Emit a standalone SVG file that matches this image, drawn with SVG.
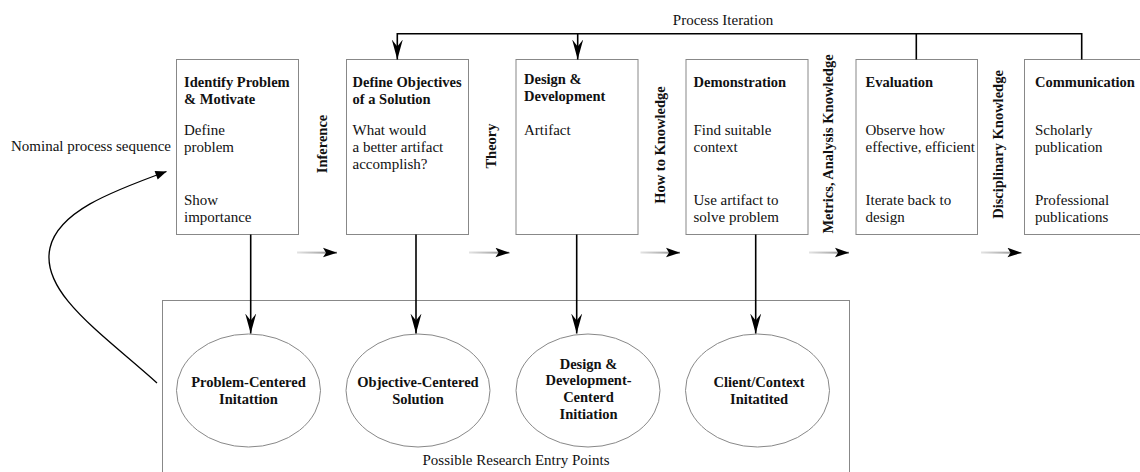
<svg xmlns="http://www.w3.org/2000/svg" width="1140" height="472" viewBox="0 0 1140 472">
<defs>
<style>
text{font-family:"Liberation Serif","DejaVu Serif",serif;fill:#111;}
.r{font-size:15px;}
.b{font-size:14.5px;font-weight:bold;}
.box{fill:#fff;stroke:#888;stroke-width:1;}
.ell{fill:#fff;stroke:#888;stroke-width:1;}
.ln{fill:none;stroke:#000;stroke-width:1.6;}
.sm{fill:none;stroke:url(#g);stroke-width:2;}
</style>
<linearGradient id="g" x1="0" y1="0" x2="1" y2="0">
<stop offset="0" stop-color="#e4e4e4"/>
<stop offset="1" stop-color="#888"/>
</linearGradient>
<marker id="ah" markerUnits="userSpaceOnUse" markerWidth="22" markerHeight="14" viewBox="-20 -7 22 14" refX="0" refY="0" orient="auto">
<path d="M0,0 L-20,-5.5 L-13,0 L-20,5.5 z" fill="#000"/>
</marker>
<marker id="tri" markerUnits="userSpaceOnUse" markerWidth="14" markerHeight="12" viewBox="-12 -6 14 12" refX="0" refY="0" orient="auto">
<path d="M0,0 L-11,-4.5 L-11,4.5 z" fill="#000"/>
</marker>
<marker id="sh" markerUnits="userSpaceOnUse" markerWidth="16" markerHeight="12" viewBox="-14 -6 16 12" refX="0" refY="0" orient="auto">
<path d="M0,0 L-14,-5 L-11,0 L-14,4.5 z" fill="#000"/>
</marker>
</defs>
<rect width="1140" height="472" fill="#fff"/>

<g id="entry-points">
<rect x="162.5" y="300.5" width="687" height="200" fill="#fff" stroke="#888" stroke-width="1"/>
<text class="r" x="516" y="465" text-anchor="middle">Possible Research Entry Points</text>
</g>

<g id="box-identify">
<rect class="box" x="176.5" y="59.5" width="122" height="175"/>
<text class="b" x="184" y="87">Identify Problem</text>
<text class="b" x="184" y="104">&amp; Motivate</text>
<text class="r" x="184" y="135">Define</text>
<text class="r" x="184" y="152">problem</text>
<text class="r" x="184" y="205">Show</text>
<text class="r" x="184" y="222">importance</text>
</g>
<g id="box-objectives">
<rect class="box" x="346.5" y="59.5" width="122" height="175"/>
<text class="b" x="352.5" y="87">Define Objectives</text>
<text class="b" x="352.5" y="104">of a Solution</text>
<text class="r" x="352.5" y="135">What would</text>
<text class="r" x="352.5" y="152">a better artifact</text>
<text class="r" x="352.5" y="169">accomplish?</text>
</g>
<g id="box-design">
<rect class="box" x="516" y="59.5" width="122" height="175"/>
<text class="b" x="524" y="84">Design &amp;</text>
<text class="b" x="524" y="101">Development</text>
<text class="r" x="524" y="135">Artifact</text>
</g>
<g id="box-demonstration">
<rect class="box" x="686" y="59.5" width="122" height="175"/>
<text class="b" x="693.5" y="87">Demonstration</text>
<text class="r" x="693.5" y="135">Find suitable</text>
<text class="r" x="693.5" y="152">context</text>
<text class="r" x="693.5" y="205">Use artifact to</text>
<text class="r" x="693.5" y="222">solve problem</text>
</g>
<g id="box-evaluation">
<rect class="box" x="856" y="59.5" width="121.5" height="175"/>
<text class="b" x="865.5" y="87">Evaluation</text>
<text class="r" x="865.5" y="135">Observe how</text>
<text class="r" x="865.5" y="152">effective, efficient</text>
<text class="r" x="865.5" y="205">Iterate back to</text>
<text class="r" x="865.5" y="222">design</text>
</g>
<g id="box-communication">
<rect class="box" x="1024.5" y="59.5" width="130" height="175"/>
<text class="b" x="1035" y="87">Communication</text>
<text class="r" x="1035" y="135">Scholarly</text>
<text class="r" x="1035" y="152">publication</text>
<text class="r" x="1035" y="205">Professional</text>
<text class="r" x="1035" y="222">publications</text>
</g>

<g id="ell-problem">
<ellipse class="ell" cx="248.5" cy="390.5" rx="72" ry="56.5"/>
<text class="b" x="248.5" y="387" text-anchor="middle">Problem-Centered</text>
<text class="b" x="248.5" y="404" text-anchor="middle">Initattion</text>
</g>
<g id="ell-objective">
<ellipse class="ell" cx="418" cy="390.5" rx="72" ry="56.5"/>
<text class="b" x="418" y="387" text-anchor="middle">Objective-Centered</text>
<text class="b" x="418" y="404" text-anchor="middle">Solution</text>
</g>
<g id="ell-design">
<ellipse class="ell" cx="588" cy="390.5" rx="72" ry="56.5"/>
<text class="b" x="588.5" y="369" text-anchor="middle">Design &amp;</text>
<text class="b" x="588.5" y="385" text-anchor="middle">Development-</text>
<text class="b" x="588.5" y="402" text-anchor="middle">Centerd</text>
<text class="b" x="588.5" y="419" text-anchor="middle">Initiation</text>
</g>
<g id="ell-client">
<ellipse class="ell" cx="757.5" cy="390.5" rx="72" ry="56.5"/>
<text class="b" x="759" y="387" text-anchor="middle">Client/Context</text>
<text class="b" x="759" y="404" text-anchor="middle">Initatited</text>
</g>

<g id="labels">
<text class="r" x="723" y="25" text-anchor="middle">Process Iteration</text>
<text class="r" x="11" y="151">Nominal process sequence</text>
<text class="b" transform="translate(327,144) rotate(-90)" text-anchor="middle">Inference</text>
<text class="b" transform="translate(496,146) rotate(-90)" text-anchor="middle">Theory</text>
<text class="b" transform="translate(665,145) rotate(-90)" text-anchor="middle">How to Knowledge</text>
<text class="b" transform="translate(833,144) rotate(-90)" text-anchor="middle">Metrics, Analysis Knowledge</text>
<text class="b" transform="translate(1003,144.5) rotate(-90)" text-anchor="middle">Disciplinary Knowledge</text>
</g>

<g id="connectors">
<path class="ln" d="M1081.7,59.5 V33.7 H397.3 V59.5" marker-end="url(#ah)"/>
<path class="ln" d="M577.7,33.7 V59.5" marker-end="url(#ah)"/>
<path class="ln" d="M916.3,33.7 V59.5"/>
<path class="ln" d="M250.7,234.5 V333.5" marker-end="url(#ah)"/>
<path class="ln" d="M416,234.5 V333.5" marker-end="url(#ah)"/>
<path class="ln" d="M576.7,234.5 V333.5" marker-end="url(#ah)"/>
<path class="ln" d="M755.7,234.5 V333.5" marker-end="url(#ah)"/>
<path fill="none" stroke="#000" stroke-width="1.3" d="M157,383 C100,332 40,292 50,248 C58,212 110,192 166.5,171.5" marker-end="url(#tri)"/>
<g>
<line class="sm" x1="297" y1="252.6" x2="337" y2="252.8" marker-end="url(#sh)"/>
<line class="sm" x1="469" y1="252.6" x2="509.5" y2="252.8" marker-end="url(#sh)"/>
<line class="sm" x1="640.5" y1="252.6" x2="680" y2="252.8" marker-end="url(#sh)"/>
<line class="sm" x1="809" y1="252.6" x2="849" y2="252.8" marker-end="url(#sh)"/>
<line class="sm" x1="981" y1="252.6" x2="1021.5" y2="252.8" marker-end="url(#sh)"/>
</g>
</g>
</svg>
